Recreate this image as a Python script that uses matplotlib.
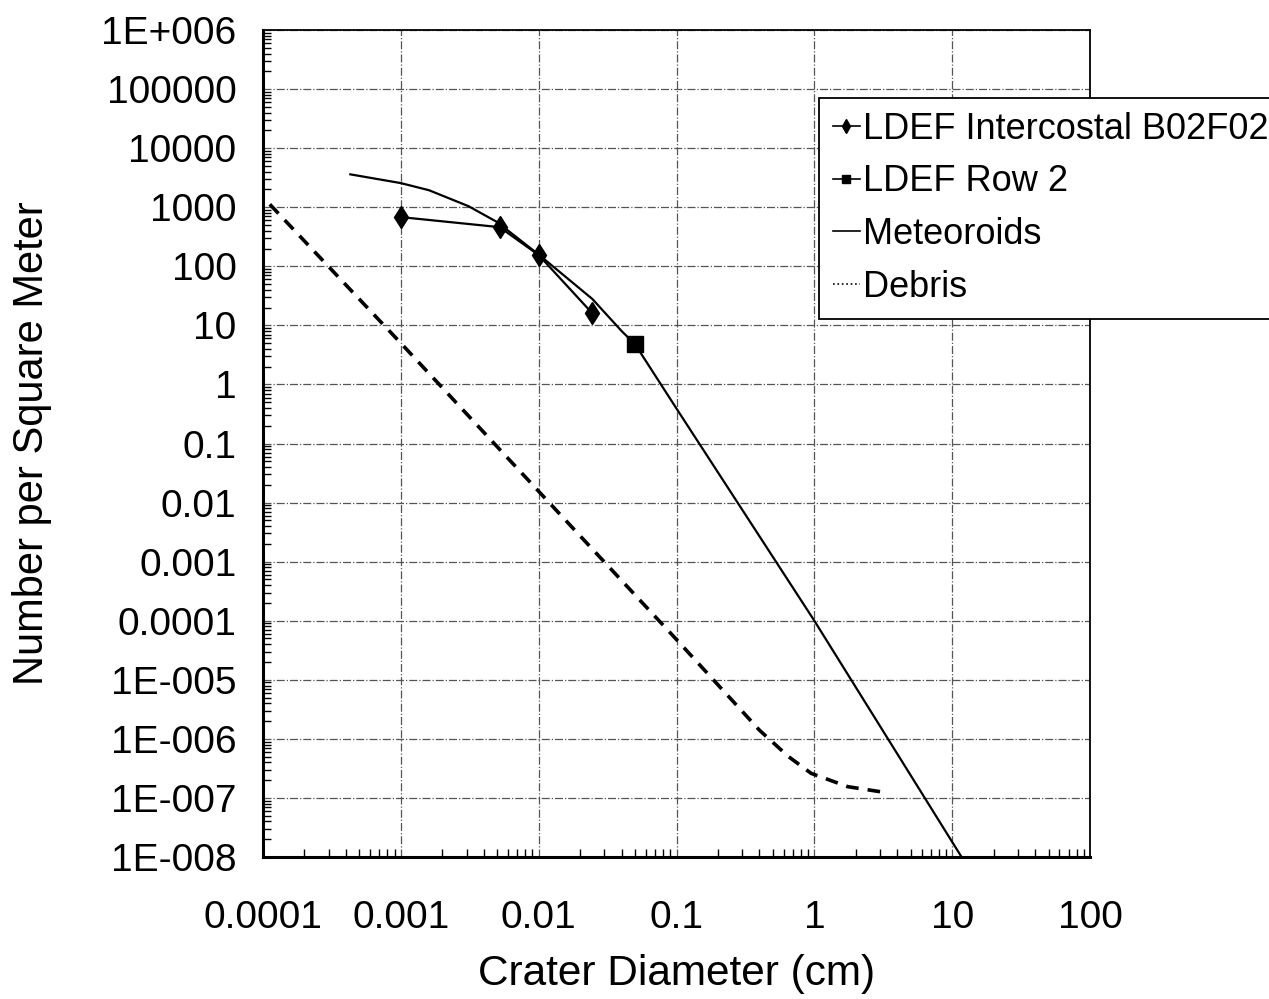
import matplotlib.pyplot as plt
from matplotlib.lines import Line2D
from matplotlib.ticker import LogLocator, FixedLocator, NullFormatter

# crater diameter (cm) / number per square meter
intercostal_x = [0.001, 0.0052, 0.01, 0.0245]
intercostal_y = [680, 460, 155, 16]

row2_x = [0.05]
row2_y = [4.8]

meteor_x = [0.00043, 0.001, 0.0016, 0.0031, 0.005, 0.01, 0.0245, 0.04, 0.05, 0.1, 1.0, 11.7]
meteor_y = [3600, 2560, 1940, 1040, 560, 158, 28, 8, 4.8, 0.39, 1e-4, 1e-8]

debris_x = [0.000112, 0.001, 0.01, 0.1, 0.4, 0.65, 0.95, 1.75, 3.1]
debris_y = [1120, 5, 0.0155, 4.8e-5, 1.4e-6, 5e-7, 2.6e-7, 1.55e-7, 1.26e-7]

xticks = [1e-4, 1e-3, 1e-2, 1e-1, 1, 10, 100]
xlabels = ["0.0001", "0.001", "0.01", "0.1", "1", "10", "100"]
yticks = [10.0 ** k for k in range(6, -9, -1)]
ylabels = ["1E+006", "100000", "10000", "1000", "100", "10", "1", "0.1", "0.01",
           "0.001", "0.0001", "1E-005", "1E-006", "1E-007", "1E-008"]

plt.rcParams['font.family'] = ['Liberation Sans', 'DejaVu Sans']

fig = plt.figure(figsize=(12.69, 9.99), dpi=100)
ax = fig.add_axes([263 / 1269, 1 - 857 / 999, (1090 - 263) / 1269, (857 - 30) / 999])

ax.set_xscale('log')
ax.set_yscale('log')
ax.set_xlim(1e-4, 100)
ax.set_ylim(1e-8, 1e6)

ax.grid(True, which='major', color='#555555', linestyle='-.', linewidth=0.9)
ax.set_axisbelow(True)

ax.plot(meteor_x, meteor_y, color='black', linewidth=1.6, zorder=3)
ax.plot(debris_x, debris_y, color='black', linewidth=2.6, dashes=(3.5, 2.5), zorder=3)
ax.plot(intercostal_x, intercostal_y, color='black', linewidth=1.6, marker='d',
        markersize=11.5, zorder=4)
ax.plot(row2_x, row2_y, color='black', marker='s', markersize=11, linestyle='none', zorder=4)

ax.xaxis.set_major_locator(FixedLocator(xticks))
ax.set_xticklabels(xlabels)
ax.yaxis.set_major_locator(FixedLocator(yticks))
ax.set_yticklabels(ylabels)
ax.xaxis.set_minor_locator(LogLocator(base=10, subs=range(2, 10), numticks=20))
ax.yaxis.set_minor_locator(LogLocator(base=10, subs=range(2, 10), numticks=30))
ax.xaxis.set_minor_formatter(NullFormatter())
ax.yaxis.set_minor_formatter(NullFormatter())

ax.tick_params(axis='both', which='major', labelsize=28, direction='in', length=0)
ax.tick_params(axis='both', which='minor', direction='in', length=6, width=1)
ax.tick_params(axis='x', which='major', pad=31)
ax.tick_params(axis='y', which='major', pad=19)

for s in ['left', 'bottom']:
    ax.spines[s].set_linewidth(2.2)
for s in ['top', 'right']:
    ax.spines[s].set_linewidth(1.3)

ax.set_xlabel("Crater Diameter (cm)", fontsize=30.5)
ax.set_ylabel("Number per Square Meter", fontsize=30)
ax.xaxis.set_label_coords(0.5, (857 - 954) / 827)
ax.yaxis.set_label_coords((52 - 263) / 827, 0.5)

handles = [
    Line2D([], [], color='black', linewidth=1.2, marker='d', markersize=7),
    Line2D([], [], color='black', linewidth=1.2, marker='s', markersize=6),
    Line2D([], [], color='black', linewidth=1.2),
    Line2D([], [], color='black', linewidth=1.2, linestyle=':'),
]
labels = ["LDEF Intercostal B02F02", "LDEF Row 2", "Meteoroids", "Debris"]
leg = fig.legend(handles, labels, loc='upper left',
                 bbox_to_anchor=(819 / 1269, 1 - 98 / 999),
                 prop={'size': 26},
                 frameon=True, fancybox=False, edgecolor='black', framealpha=1,
                 handlelength=0.75, handletextpad=0.1, borderpad=0.38,
                 labelspacing=0.49, borderaxespad=0)
leg.get_frame().set_linewidth(1.3)

fig.savefig("out.png", dpi=100)
